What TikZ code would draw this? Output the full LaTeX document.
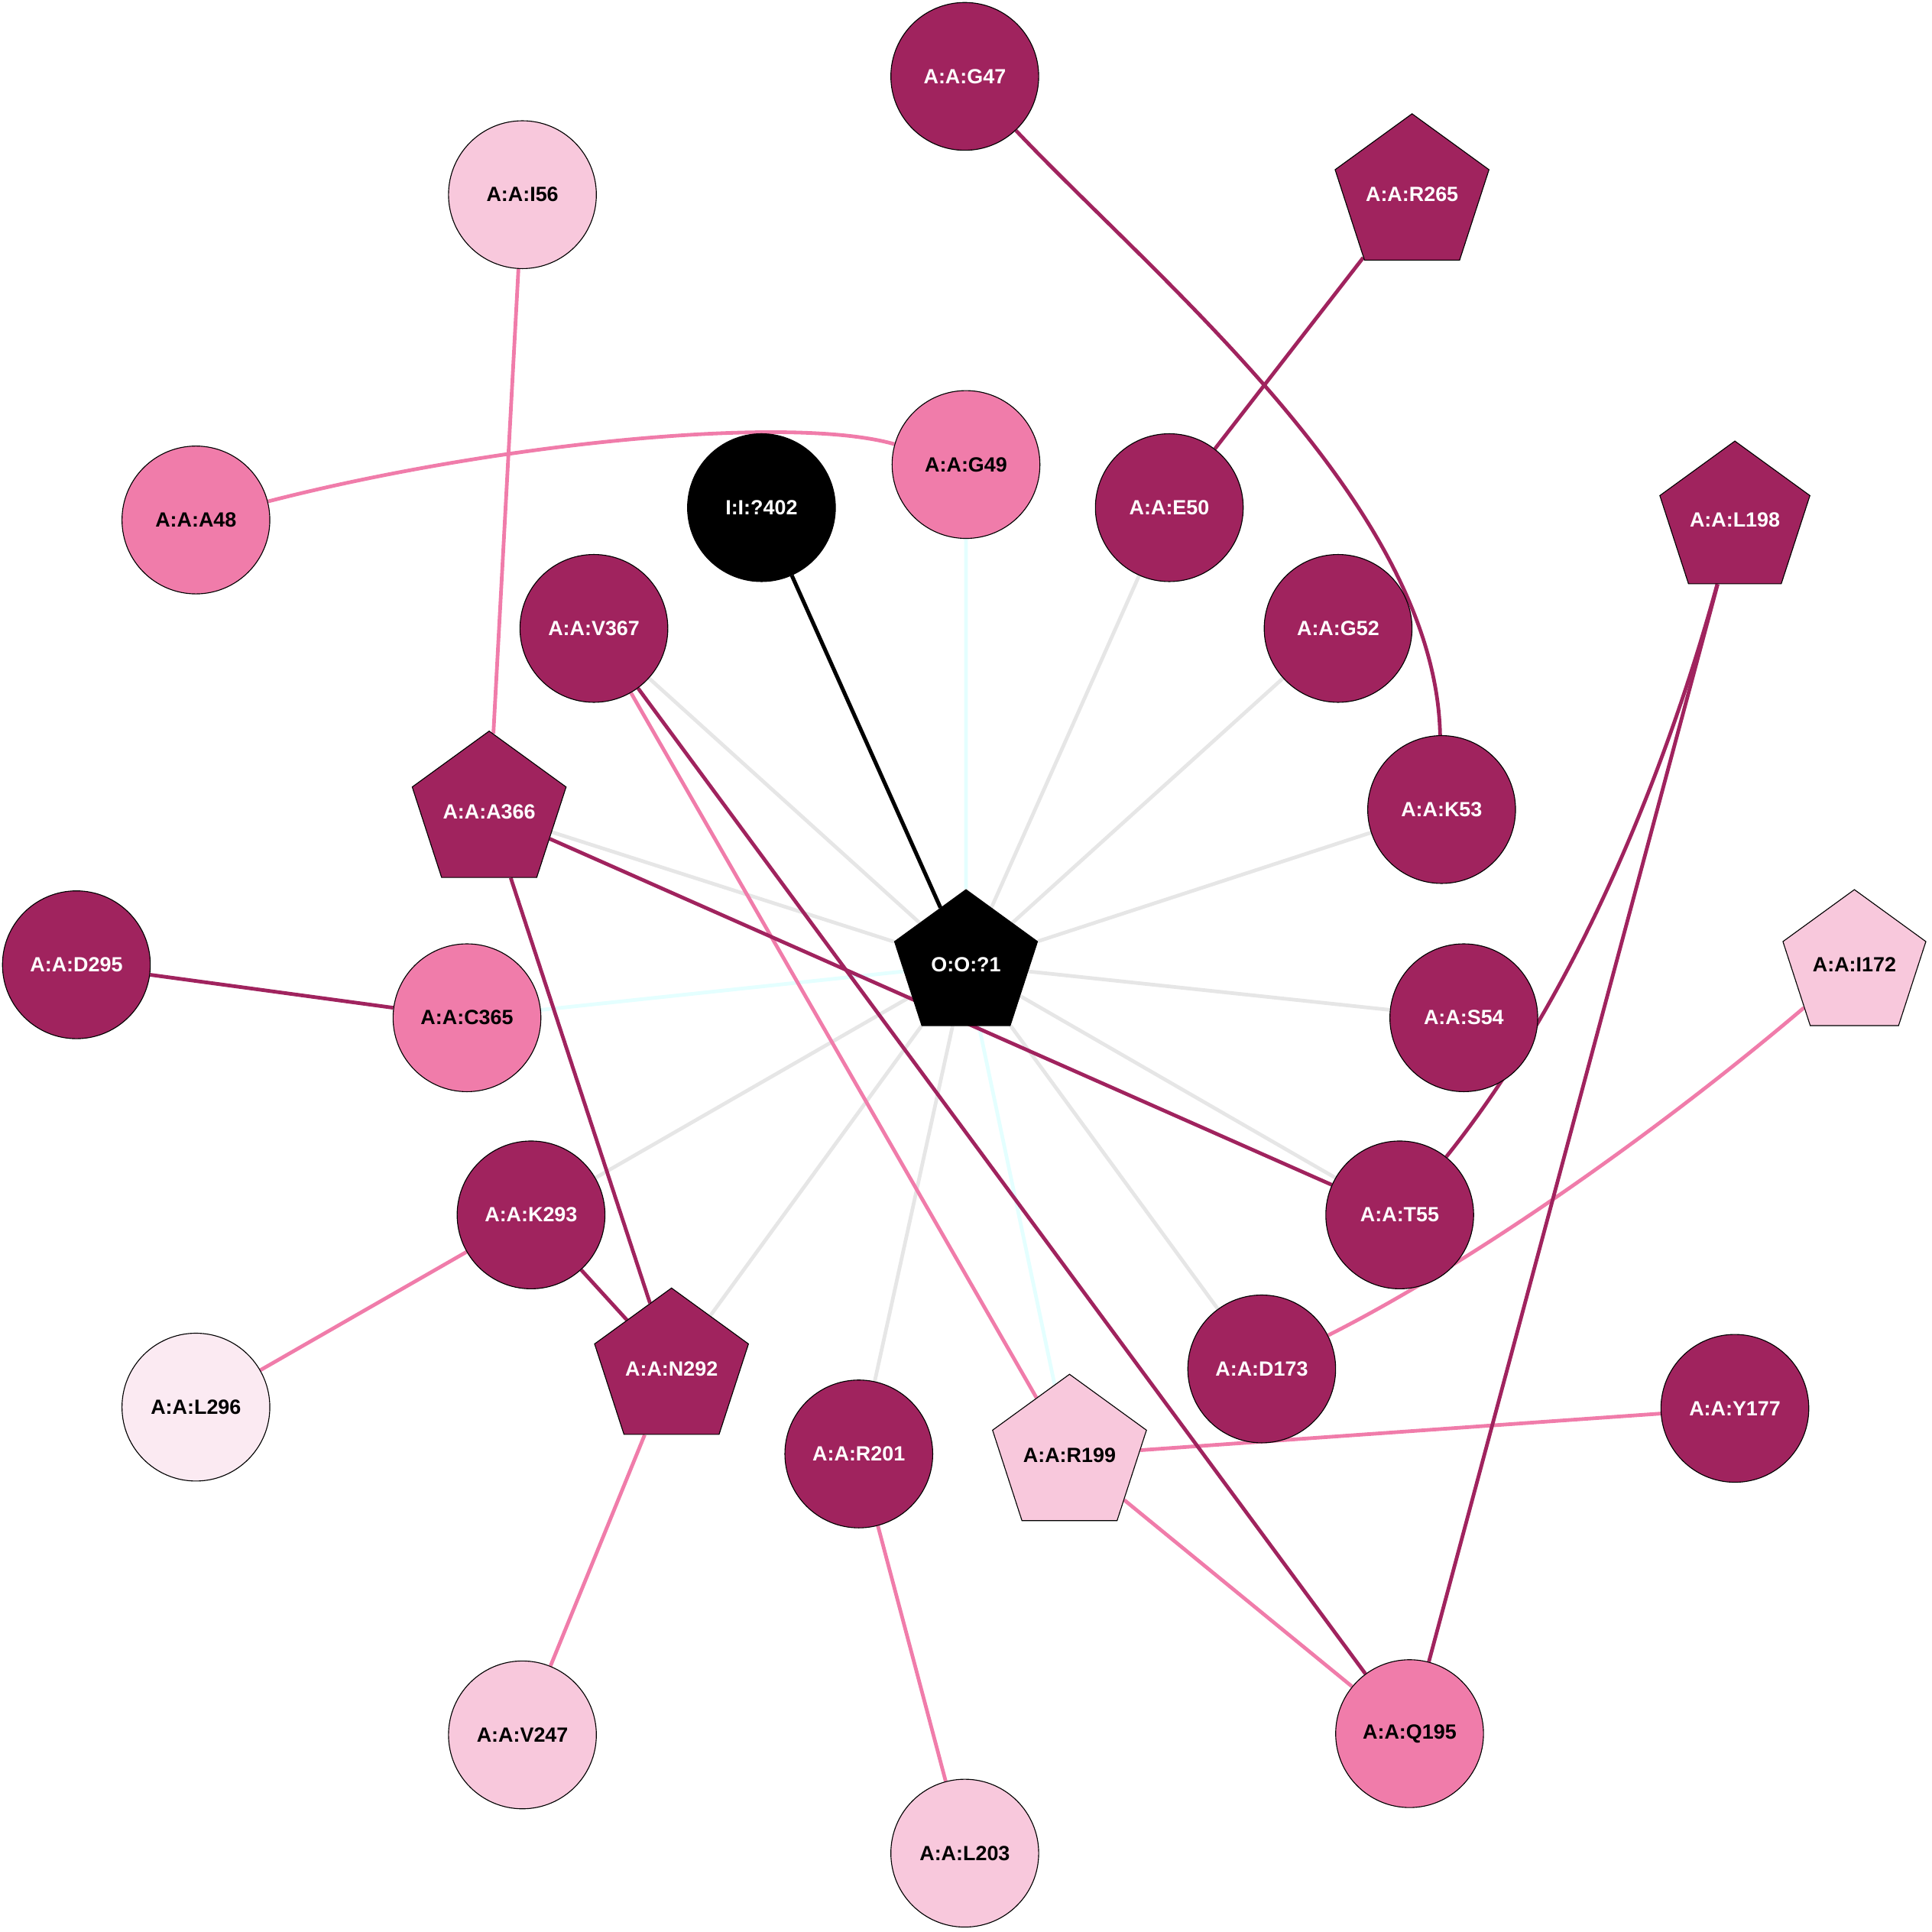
\documentclass[tikz,border=0pt]{standalone}
\usepackage{fontspec}
\setmainfont{Liberation Sans}
\usetikzlibrary{shapes.geometric}
\definecolor{dkc}{HTML}{A0235E}
\definecolor{mdc}{HTML}{F07CAA}
\definecolor{ltc}{HTML}{F8C8DC}
\definecolor{vlc}{HTML}{FBEAF2}
\definecolor{gyc}{HTML}{E6E6E6}
\definecolor{cyc}{HTML}{E4FFFF}
\pgfdeclarelayer{bg}
\pgfsetlayers{bg,main}
\tikzset{
  base/.style={draw=black, line width=0.4pt, inner sep=0pt, font=\fontsize{9.5}{11}\selectfont\bfseries},
  circ/.style={base, circle, minimum size=2.4cm},
  pent/.style={base, regular polygon, regular polygon sides=5, minimum size=2.44cm},
  dk/.style={fill=dkc, text=white},
  md/.style={fill=mdc, text=black},
  lt/.style={fill=ltc, text=black},
  vl/.style={fill=vlc, text=black},
  bk/.style={fill=black, text=white},
  egray/.style={draw=gyc, line width=1.7pt},
  ecyan/.style={draw=cyc, line width=1.7pt},
  edark/.style={draw=dkc, line width=1.7pt},
  epink/.style={draw=mdc, line width=1.7pt},
  eblack/.style={draw=black, line width=1.8pt},
}
\begin{document}
\begin{tikzpicture}[x=0.02cm,y=-0.02cm]
\useasboundingbox (0,0) rectangle (1568,1568);
% circles
\node[circ,dk] (G47) at (783,62) {A:A:G47};
\node[circ,lt] (I56) at (424,158) {A:A:I56};
\node[circ,md] (A48) at (159,422) {A:A:A48};
\node[circ,md] (G49) at (784,377) {A:A:G49};
\node[circ,bk] (I402) at (618,412) {I:I:?402};
\node[circ,dk] (E50) at (949,412) {A:A:E50};
\node[circ,dk] (V367) at (482,510) {A:A:V367};
\node[circ,dk] (G52) at (1086,510) {A:A:G52};
\node[circ,dk] (K53) at (1170,657) {A:A:K53};
\node[circ,dk] (D295) at (62,783) {A:A:D295};
\node[circ,md] (C365) at (379,826) {A:A:C365};
\node[circ,dk] (S54) at (1188,826) {A:A:S54};
\node[circ,dk] (K293) at (431,986) {A:A:K293};
\node[circ,dk] (T55) at (1136,986) {A:A:T55};
\node[circ,dk] (D173) at (1024,1111) {A:A:D173};
\node[circ,vl] (L296) at (159,1142) {A:A:L296};
\node[circ,dk] (R201) at (697,1180) {A:A:R201};
\node[circ,dk] (Y177) at (1408,1143) {A:A:Y177};
\node[circ,lt] (V247) at (424,1408) {A:A:V247};
\node[circ,md] (Q195) at (1144,1407) {A:A:Q195};
\node[circ,lt] (L203) at (783,1504) {A:A:L203};
% pentagons
\node[pent,dk] (R265) at (1146,158) {A:A:R265};
\node[pent,dk] (L198) at (1408,422) {A:A:L198};
\node[pent,dk] (A366) at (397,659) {A:A:A366};
\node[pent,bk] (O1) at (784,783) {O:O:?1};
\node[pent,lt] (I172) at (1505,783) {A:A:I172};
\node[pent,dk] (N292) at (545,1111) {A:A:N292};
\node[pent,lt] (R199) at (868,1181) {A:A:R199};
% edges
\begin{pgfonlayer}{bg}
\foreach \n in {E50,G52,K53,V367,A366,S54,T55,D173,R201,N292,K293}
  \draw[egray] (O1) -- (\n);
\foreach \n in {G49,C365,R199}
  \draw[ecyan] (O1) -- (\n);
\draw[eblack] (I402) -- (O1);
\draw[epink] (I56) -- (A366);
\draw[epink] (A48) .. controls (400,360) and (640,336) .. (G49);
\draw[epink] (V367) -- (R199);
\draw[epink] (K293) -- (L296);
\draw[epink] (N292) -- (V247);
\draw[epink] (R201) -- (L203);
\draw[epink] (R199) -- (Y177);
\draw[epink] (R199) -- (Q195);
\draw[epink] (I172) .. controls (1351,914) and (1200,1022) .. (D173);
\draw[edark] (G47) .. controls (940,228) and (1165,410) .. (K53);
\draw[edark] (L198) .. controls (1355,615) and (1285,800) .. (T55);
\draw[edark] (R265) -- (E50);
\draw[edark] (L198) -- (Q195);
\draw[edark] (V367) -- (Q195);
\draw[edark] (A366) -- (T55);
\draw[edark] (A366) -- (N292);
\draw[edark] (D295) -- (C365);
\draw[edark] (K293) -- (N292);
\end{pgfonlayer}
\end{tikzpicture}
\end{document}
